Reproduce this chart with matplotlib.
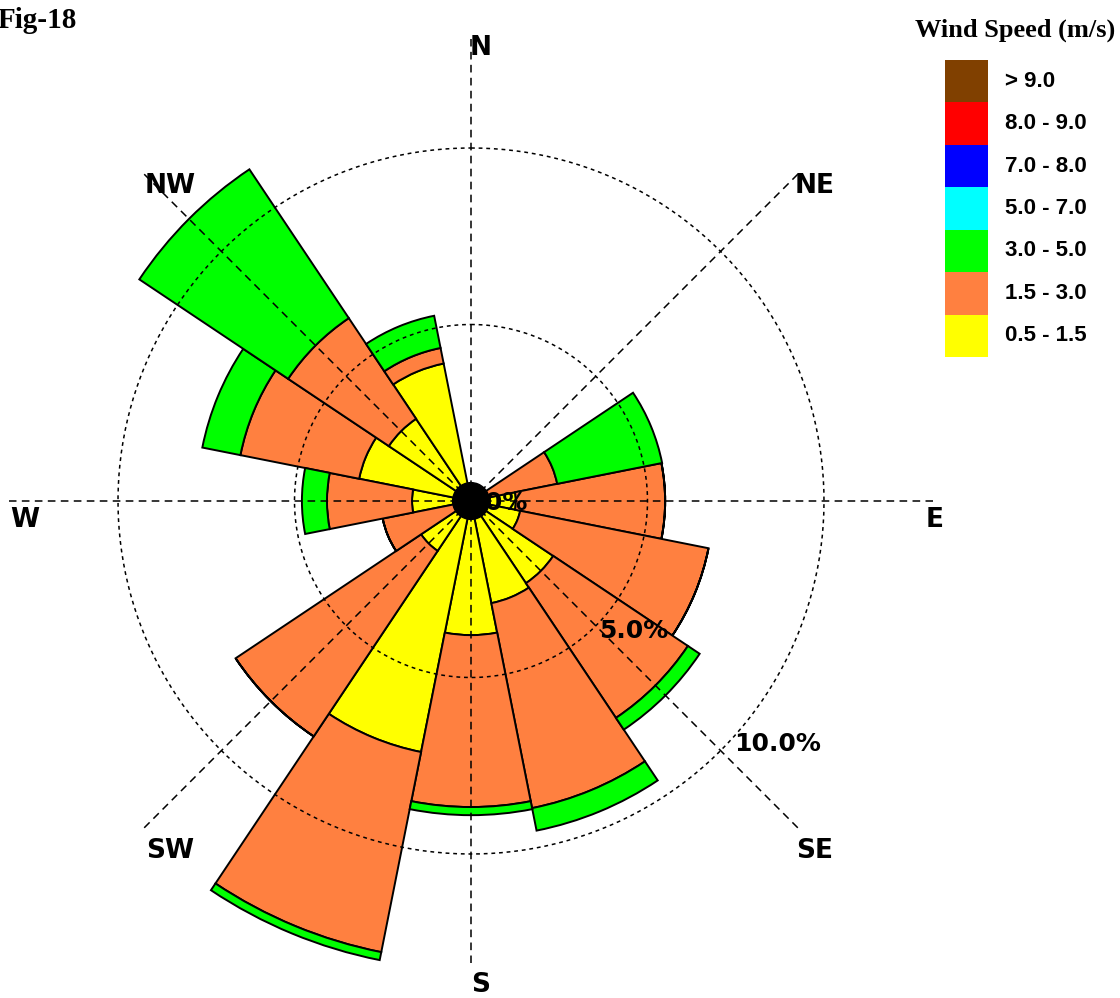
import numpy as np
import matplotlib
matplotlib.use('Agg')
import matplotlib.pyplot as plt

# 16 wind directions (blowing from), clockwise from north
directions = ['N', 'NNE', 'NE', 'ENE', 'E', 'ESE', 'SE', 'SSE',
              'S', 'SSW', 'SW', 'WSW', 'W', 'WNW', 'NW', 'NNW']

# frequency (%) of each speed class per direction
spd_05_15 = [0.3, 0.3, 0.4, 0.5, 1.27, 1.42, 2.80, 2.95, 3.80, 7.25, 1.70, 0.5, 1.67, 3.23, 2.80, 3.97]
spd_15_30 = [0, 0, 0, 1.99, 4.23, 5.44, 4.59, 5.92, 4.87, 5.78, 6.32, 2.05, 2.41, 3.43, 3.43, 0.45]
spd_30_50 = [0, 0, 0, 3.03, 0, 0, 0.40, 0.65, 0.23, 0.23, 0, 0, 0.71, 1.10, 5.07, 0.93]
spd_50_70 = [0] * 16
spd_70_80 = [0] * 16
spd_80_90 = [0] * 16
spd_90_up = [0] * 16

class_labels = ['0.5 - 1.5', '1.5 - 3.0', '3.0 - 5.0', '5.0 - 7.0', '7.0 - 8.0', '8.0 - 9.0', '> 9.0']
class_colors = ['#ffff00', '#ff8040', '#00ff00', '#00ffff', '#0000ff', '#ff0000', '#804000']

ring_values = [5.0, 10.0]
ring_labels = ['5.0%', '10.0%']
compass = ['N', 'NE', 'E', 'SE', 'S', 'SW', 'W', 'NW']

W, H = 1120, 998
fig = plt.figure(figsize=(W / 100, H / 100), dpi=100)

# polar axes placed so the rose centre sits at (471, 501) px
cx, cy = 471, 501
rmax = 13.6
px_per_pct = 35.3
R = rmax * px_per_pct
ax = fig.add_axes([(cx - R) / W, (H - cy - R) / H, 2 * R / W, 2 * R / H], projection='polar')
ax.set_theta_zero_location('N')
ax.set_theta_direction(-1)
ax.set_ylim(0, rmax)
ax.set_axis_off()

theta = np.deg2rad(np.arange(16) * 22.5)
width = 2 * np.pi / 16

series = [spd_05_15, spd_15_30, spd_30_50, spd_50_70, spd_70_80, spd_80_90, spd_90_up]
bottom = np.zeros(16)
for vals, col in zip(series, class_colors):
    vals = np.array(vals, dtype=float)
    if vals.sum() == 0:
        continue
    ax.bar(theta, vals, width=width, bottom=bottom, color=col,
           edgecolor='black', linewidth=1.4, align='center', zorder=2)
    bottom = bottom + vals

# dashed rings and spokes
t = np.linspace(0, 2 * np.pi, 400)
for rv in ring_values:
    ax.plot(t, np.full_like(t, rv), color='black', lw=1.1,
            linestyle=(0, (2.5, 2.5)), zorder=3)
spoke_len = 13.1
for k in range(8):
    a = np.deg2rad(k * 45)
    ax.plot([a, a], [0, spoke_len], color='black', lw=1.1,
            linestyle=(0, (5, 3.5)), zorder=3)

# compass labels, offset from the spoke ends (pixels)
offsets = [(10, -6), (19, -9), (5, -19), (19, -26), (10, -25), (24, -26), (13, -19), (24, -9)]
for k, (lab, off) in enumerate(zip(compass, offsets)):
    a = np.deg2rad(k * 45)
    ax.annotate(lab, xy=(a, 13.0), xytext=off, textcoords='offset pixels',
                ha='center', va='center', fontsize=19, family='DejaVu Sans',
                weight='semibold', zorder=6, annotation_clip=False)

# ring labels
for rv, lab, r_txt in zip(ring_values, ring_labels, [5.9, 11.08]):
    ax.text(np.deg2rad(128.5), r_txt, lab, ha='center', va='center', fontsize=18,
            family='DejaVu Sans', weight='semibold', zorder=4)
ax.text(np.deg2rad(95), 0.65, '0.0%', ha='center', va='center', fontsize=18,
        family='DejaVu Sans', weight='semibold', zorder=4)

# calm circle
ax.bar(0, 0.52, width=2 * np.pi, bottom=0, color='black', edgecolor='black', zorder=5)

fig.text(-0.002, 1 - 21 / H, 'Fig-18', ha='left', va='center', fontsize=21,
         family='Liberation Serif', weight='bold')

# legend
fig.text(1015 / W, 1 - 30 / H, 'Wind Speed (m/s)', ha='center', va='center', fontsize=19,
         family='Liberation Serif', weight='bold')
lax = fig.add_axes([945 / W, (H - 357) / H, 43 / W, 297 / H])
ypos = np.arange(len(class_labels))
lax.barh(ypos, np.ones(len(class_labels)), height=1.0, color=class_colors)
for y, lab in zip(ypos, class_labels):
    lax.text(1.4, y, lab, ha='left', va='center', fontsize=16, weight='bold',
             family='Liberation Sans')
lax.set_xlim(0, 1)
lax.set_ylim(-0.5, len(class_labels) - 0.5)
lax.set_axis_off()

fig.savefig('out.png', dpi=100)
